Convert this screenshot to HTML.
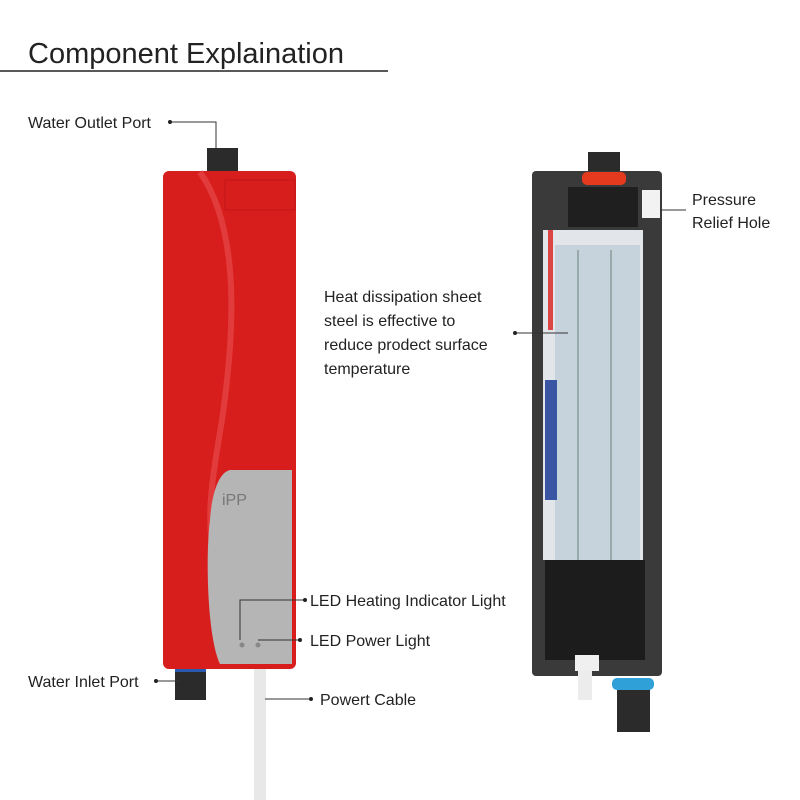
<!DOCTYPE html>
<html><head><style>
body{margin:0;background:#fff;}
svg{display:block;font-family:"Liberation Sans",sans-serif;}
</style></head><body>
<svg width="800" height="800" viewBox="0 0 800 800">
<text x="28" y="63" font-size="29" fill="#222" font-weight="300">Component Explaination</text>
<line x1="0" y1="71" x2="388" y2="71" stroke="#222" stroke-width="1.5"/>

<!-- left device -->
<rect x="207" y="148" width="31" height="28" fill="#2b2b2b"/>
<rect x="175" y="664" width="31" height="36" fill="#2b2b2b"/>
<rect x="175" y="666" width="31" height="6" fill="#2a5ab0"/>
<rect x="254" y="664" width="12" height="136" fill="#e8e8e8"/>
<rect x="163" y="171" width="133" height="498" rx="6" fill="#d81d1d"/>
<path d="M200 172 C240 230 235 330 222 420 C212 480 205 520 215 560" fill="none" stroke="#e85050" stroke-width="6" opacity="0.6"/>
<rect x="225" y="180" width="70" height="30" fill="none" stroke="#c01515"/>
<path d="M230 470 L292 470 L292 664 L220 664 C208 640 205 560 210 520 C212 490 220 472 230 470 Z" fill="#b5b5b5"/>
<text x="222" y="505" font-size="16" fill="#777">iPP</text>
<circle cx="242" cy="645" r="2.5" fill="#888"/><circle cx="258" cy="645" r="2.5" fill="#888"/>

<!-- right device -->
<rect x="588" y="152" width="32" height="30" fill="#2b2b2b"/>
<rect x="617" y="680" width="33" height="52" fill="#2b2b2b"/>
<rect x="532" y="171" width="130" height="505" rx="4" fill="#3a3a3a"/>
<rect x="582" y="172" width="44" height="13" rx="5" fill="#e63a1e"/>
<rect x="612" y="678" width="42" height="12" rx="5" fill="#2fa0d8"/>
<rect x="568" y="187" width="70" height="40" fill="#1f1f1f"/>
<rect x="642" y="190" width="18" height="28" fill="#f2f2f2"/>
<rect x="543" y="230" width="100" height="330" fill="#e2e6ea"/>
<rect x="555" y="245" width="85" height="320" fill="#c7d3dc"/>
<line x1="578" y1="250" x2="578" y2="565" stroke="#9aa" stroke-width="2"/>
<line x1="611" y1="250" x2="611" y2="565" stroke="#9aa" stroke-width="2"/>
<rect x="545" y="560" width="100" height="100" fill="#1c1c1c"/>
<rect x="545" y="380" width="12" height="120" fill="#3b55a5"/>
<rect x="548" y="230" width="5" height="100" fill="#d44"/>
<rect x="575" y="655" width="24" height="16" fill="#f0f0f0"/>
<rect x="578" y="670" width="14" height="30" fill="#ececec"/>

<!-- labels -->
<g font-size="16" fill="#222">
<text x="28" y="128">Water Outlet Port</text>
<text x="692" y="205">Pressure</text>
<text x="692" y="228">Relief Hole</text>
<text x="324" y="302">Heat dissipation sheet</text>
<text x="324" y="326">steel is effective to</text>
<text x="324" y="350">reduce prodect surface</text>
<text x="324" y="374">temperature</text>
<text x="310" y="606">LED Heating Indicator Light</text>
<text x="310" y="646">LED Power Light</text>
<text x="28" y="687">Water Inlet Port</text>
<text x="320" y="705">Powert Cable</text>
</g>
<g stroke="#333" stroke-width="1" fill="none">
<polyline points="170,122 216,122 216,148"/>
<line x1="660" y1="210" x2="686" y2="210"/>
<line x1="515" y1="333" x2="568" y2="333"/>
<polyline points="305,600 240,600 240,640"/>
<line x1="300" y1="640" x2="258" y2="640"/>
<line x1="156" y1="681" x2="180" y2="681"/>
<line x1="311" y1="699" x2="265" y2="699"/>
</g>
<g fill="#222">
<circle cx="170" cy="122" r="2"/><circle cx="515" cy="333" r="2"/><circle cx="305" cy="600" r="2"/>
<circle cx="300" cy="640" r="2"/><circle cx="156" cy="681" r="2"/><circle cx="311" cy="699" r="2"/>
</g>
</svg>
</body></html>
